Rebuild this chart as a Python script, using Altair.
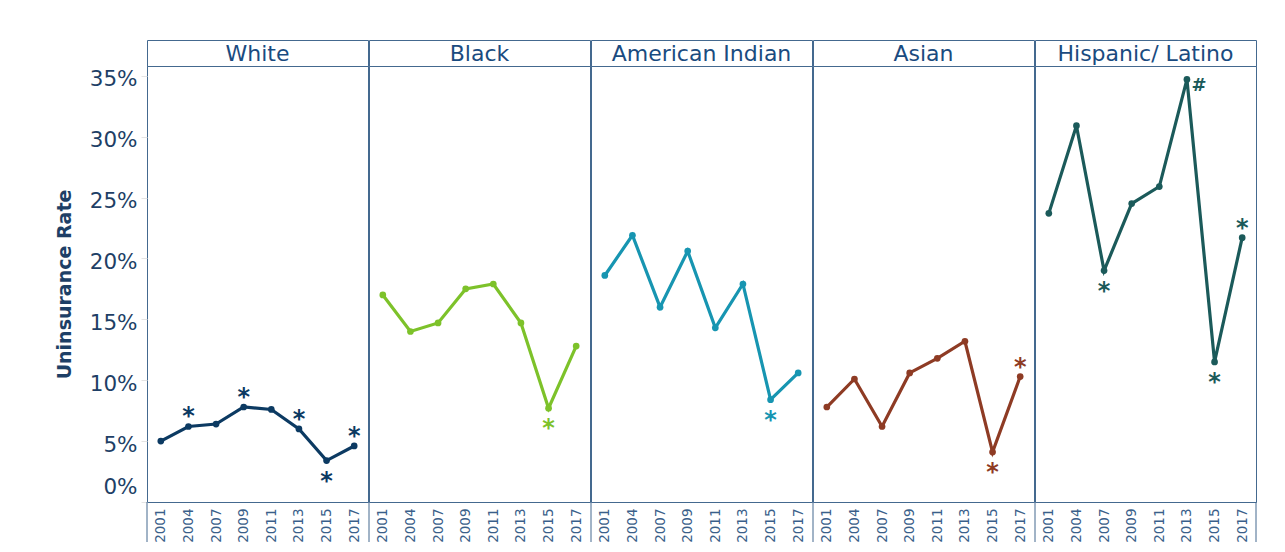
import altair as alt
import pandas as pd

# ---------------- data ----------------
years = ["2001", "2004", "2007", "2009", "2011", "2013", "2015", "2017"]
races = ["White", "Black", "American Indian", "Asian", "Hispanic/ Latino"]

white = [5.0, 6.2, 6.4, 7.8, 7.6, 6.0, 3.4, 4.6]
black = [17.0, 14.0, 14.7, 17.5, 17.9, 14.7, 7.7, 12.8]
american_indian = [18.6, 21.9, 16.0, 20.6, 14.3, 17.9, 8.4, 10.6]
asian = [7.8, 10.1, 6.2, 10.6, 11.8, 13.2, 4.1, 10.3]
hispanic = [23.7, 30.9, 19.0, 24.5, 25.9, 34.7, 11.5, 21.7]
series = [white, black, american_indian, asian, hispanic]

colors = ["#0c3a62", "#7dc22a", "#1795b1", "#8e3b24", "#1b5a5a"]

# significance markers: race, year, symbol, placement
ann_race = ["White", "White", "White", "White", "White",
            "Black", "American Indian", "Asian", "Asian",
            "Hispanic/ Latino", "Hispanic/ Latino", "Hispanic/ Latino", "Hispanic/ Latino"]
ann_year = ["2004", "2009", "2013", "2015", "2017",
            "2015", "2015", "2015", "2017",
            "2007", "2013", "2015", "2017"]
ann_symbol = ["*", "*", "*", "*", "*",
              "*", "*", "*", "*",
              "*", "#", "*", "*"]
ann_place = ["above", "above", "above", "below", "above",
             "below", "below", "below", "above",
             "below", "right", "below", "above"]

y_ticks = [0, 0.05, 0.10, 0.15, 0.20, 0.25, 0.30, 0.35]

# ---------------- tables ----------------
rows = []
for r, vals in zip(races, series):
    for yr, v in zip(years, vals):
        rows.append({"race": r, "year": yr, "rate": v / 100.0})
data = pd.DataFrame(rows)

lookup = {(r["race"], r["year"]): r["rate"] for r in rows}
ann = pd.DataFrame({
    "race": ann_race, "year": ann_year, "symbol": ann_symbol, "place": ann_place,
})
ann["rate"] = [lookup[(r, y)] for r, y in zip(ann_race, ann_year)]

# ---------------- styling ----------------
FONT = "DejaVu Sans"
FRAME = "#44698f"
W = 221
HEAD_H = 26
PLOT_H = 436
FOOT_H = 40
offsets = {"above": (0, -9), "below": (0, 21), "right": (12, 7)}

yscale = alt.Scale(domain=[0, 0.358], nice=False, zero=True)


def panel(i):
    race = races[i]
    c = colors[i]
    d = data[data["race"] == race]
    a = ann[ann["race"] == race]
    yaxis = None
    if i == 0:
        yaxis = alt.Axis(values=y_ticks, format=".0%", title="Uninsurance Rate",
                         labelFont=FONT, labelFontSize=21.5, labelColor="#1e3f66",
                         titleFont=FONT, titleFontSize=19, titleFontWeight="bold",
                         titleColor="#1e3f66", titlePadding=15,
                         labelFlush=True, labelFlushOffset=-8, labelOffset=4,
                         ticks=True, tickColor="#e4e4e4", tickSize=6,
                         labelPadding=4, domain=False, grid=False)
    xaxis = alt.Axis(labelAngle=270, labelFont=FONT, labelFontSize=13.5,
                     labelColor="#3a5f8a", ticks=False, domain=False, grid=False,
                     title=None, labelPadding=6)
    x = alt.X("year:O", sort=years, axis=xaxis)
    y = alt.Y("rate:Q", scale=yscale, axis=yaxis)
    base = alt.Chart(d).encode(x=x, y=y)
    layers = [
        base.mark_line(color=c, strokeWidth=3.2),
        base.mark_point(filled=True, color=c, size=45, opacity=1),
    ]
    for place, (dx, dy) in offsets.items():
        sub = a[a["place"] == place]
        if len(sub) == 0:
            continue
        fs = 18 if place == "right" else 24
        layers.append(
            alt.Chart(sub).mark_text(color=c, font=FONT, fontWeight="bold",
                                     fontSize=fs, dx=dx, dy=dy, baseline="middle")
            .encode(x=x, y=y, text="symbol:N")
        )
    return alt.layer(*layers).properties(width=W, height=PLOT_H)


def header(i):
    return (
        alt.Chart(pd.DataFrame({"race": [races[i]]}))
        .mark_text(font=FONT, fontSize=22, color="#1a4b80", baseline="middle")
        .encode(text="race:N", x=alt.value(W / 2), y=alt.value(HEAD_H / 2 + 1))
        .properties(width=W, height=HEAD_H)
    )


def footer(i):
    edges = pd.DataFrame({"edge": [0]})
    lay = [alt.Chart(edges).mark_rule(color=FRAME, strokeWidth=1)
           .encode(x=alt.value(0), y=alt.value(0), y2=alt.value(FOOT_H))]
    if i == len(races) - 1:
        lay.append(alt.Chart(edges).mark_rule(color=FRAME, strokeWidth=1)
                   .encode(x=alt.value(W), y=alt.value(0), y2=alt.value(FOOT_H)))
    return alt.layer(*lay).properties(width=W, height=FOOT_H,
                                      view=alt.ViewBackground(stroke="transparent"))


columns = [
    alt.vconcat(header(i), panel(i), footer(i), spacing=0, bounds="flush")
    for i in range(5)
]

chart = (
    alt.hconcat(*columns, spacing=-4)
    .properties(padding={"left": 46, "top": 31, "right": 5, "bottom": 0},
                background="white")
    .configure_view(stroke=FRAME, strokeWidth=1)
)

chart.save("out.html", embed_options={"renderer": "svg", "actions": False})
